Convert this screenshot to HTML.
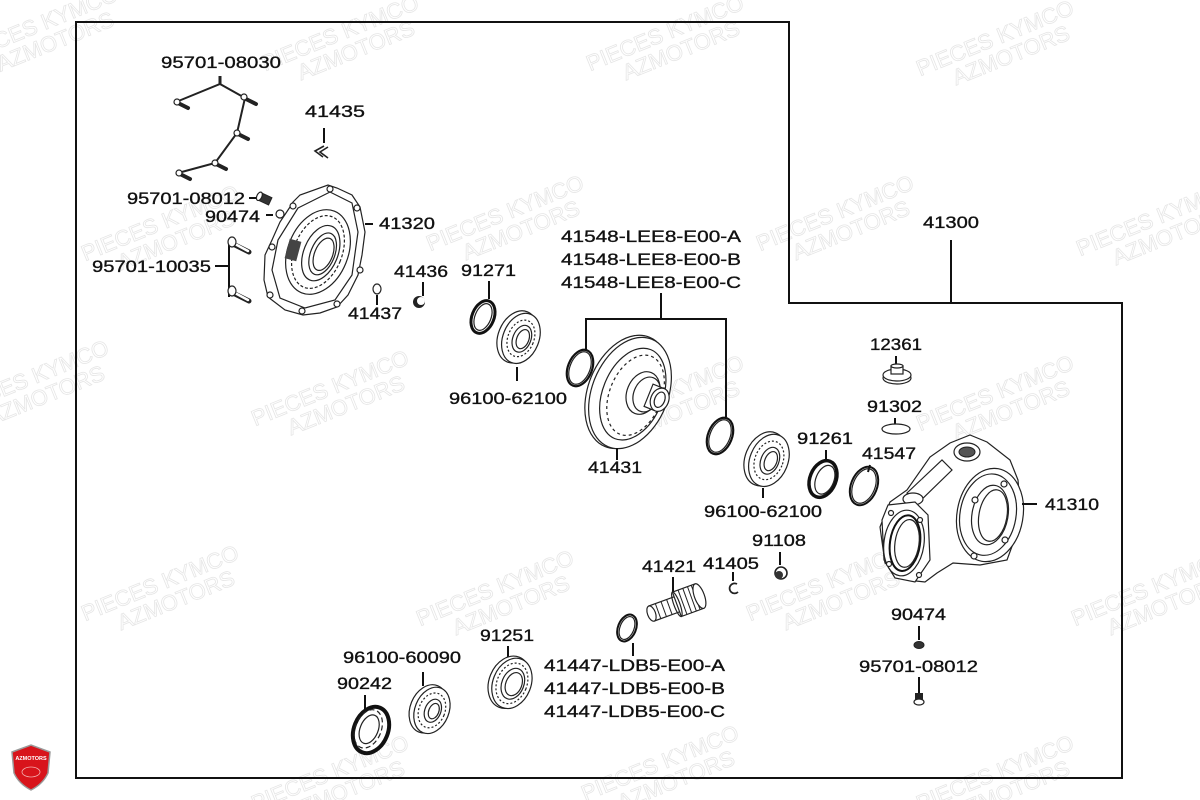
<!DOCTYPE html>
<html><head><meta charset="utf-8">
<style>
html,body{margin:0;padding:0;background:#fff;}
svg{display:block;}
.l{font-family:"Liberation Sans",Arial,sans-serif;font-size:17px;fill:#111;stroke:#111;stroke-width:0.35;}
.w{font-family:"Liberation Sans",Arial,sans-serif;font-size:22px;fill:none;stroke:#e6e6e6;stroke-width:0.8;}
.p{fill:#fff;stroke:#222;stroke-width:1.2;}
.pn{fill:none;stroke:#222;stroke-width:1.2;}
.ld{stroke:#111;stroke-width:2;fill:none;}
</style></head>
<body>
<svg width="1200" height="800" viewBox="0 0 1200 800" xmlns="http://www.w3.org/2000/svg">
<rect width="1200" height="800" fill="#fff"/>

<!-- watermarks -->
<g>
<g transform="translate(20,40) rotate(-22)"><text class="w" x="-60" y="0">PIECES KYMCO</text><text class="w" x="-30" y="22">AZMOTORS</text></g>
<g transform="translate(330,45) rotate(-22)"><text class="w" x="-70" y="0">PIECES KYMCO</text><text class="w" x="-40" y="22">AZMOTORS</text></g>
<g transform="translate(655,45) rotate(-22)"><text class="w" x="-70" y="0">PIECES KYMCO</text><text class="w" x="-40" y="22">AZMOTORS</text></g>
<g transform="translate(985,50) rotate(-22)"><text class="w" x="-70" y="0">PIECES KYMCO</text><text class="w" x="-40" y="22">AZMOTORS</text></g>
<g transform="translate(150,235) rotate(-22)"><text class="w" x="-70" y="0">PIECES KYMCO</text><text class="w" x="-40" y="22">AZMOTORS</text></g>
<g transform="translate(495,225) rotate(-22)"><text class="w" x="-70" y="0">PIECES KYMCO</text><text class="w" x="-40" y="22">AZMOTORS</text></g>
<g transform="translate(825,225) rotate(-22)"><text class="w" x="-70" y="0">PIECES KYMCO</text><text class="w" x="-40" y="22">AZMOTORS</text></g>
<g transform="translate(1145,230) rotate(-22)"><text class="w" x="-70" y="0">PIECES KYMCO</text><text class="w" x="-40" y="22">AZMOTORS</text></g>
<g transform="translate(20,390) rotate(-22)"><text class="w" x="-70" y="0">PIECES KYMCO</text><text class="w" x="-40" y="22">AZMOTORS</text></g>
<g transform="translate(320,400) rotate(-22)"><text class="w" x="-70" y="0">PIECES KYMCO</text><text class="w" x="-40" y="22">AZMOTORS</text></g>
<g transform="translate(655,405) rotate(-22)"><text class="w" x="-70" y="0">PIECES KYMCO</text><text class="w" x="-40" y="22">AZMOTORS</text></g>
<g transform="translate(985,405) rotate(-22)"><text class="w" x="-70" y="0">PIECES KYMCO</text><text class="w" x="-40" y="22">AZMOTORS</text></g>
<g transform="translate(150,595) rotate(-22)"><text class="w" x="-70" y="0">PIECES KYMCO</text><text class="w" x="-40" y="22">AZMOTORS</text></g>
<g transform="translate(485,600) rotate(-22)"><text class="w" x="-70" y="0">PIECES KYMCO</text><text class="w" x="-40" y="22">AZMOTORS</text></g>
<g transform="translate(815,595) rotate(-22)"><text class="w" x="-70" y="0">PIECES KYMCO</text><text class="w" x="-40" y="22">AZMOTORS</text></g>
<g transform="translate(1140,600) rotate(-22)"><text class="w" x="-70" y="0">PIECES KYMCO</text><text class="w" x="-40" y="22">AZMOTORS</text></g>
<g transform="translate(320,785) rotate(-22)"><text class="w" x="-70" y="0">PIECES KYMCO</text><text class="w" x="-40" y="22">AZMOTORS</text></g>
<g transform="translate(650,775) rotate(-22)"><text class="w" x="-70" y="0">PIECES KYMCO</text><text class="w" x="-40" y="22">AZMOTORS</text></g>
<g transform="translate(985,785) rotate(-22)"><text class="w" x="-70" y="0">PIECES KYMCO</text><text class="w" x="-40" y="22">AZMOTORS</text></g>
</g>

<!-- border -->
<path d="M76,22 L789,22 L789,303 L1122,303 L1122,778 L76,778 Z" fill="none" stroke="#111" stroke-width="2"/>

<!-- 41300 leader -->
<line class="ld" x1="951" y1="240" x2="951" y2="303"/>

<!-- bolt harness 95701-08030 -->
<polyline points="176,102 220,84 245,98 237,133 215,163 178,173" fill="none" stroke="#222" stroke-width="2"/>
<line x1="220" y1="84" x2="220" y2="76" stroke="#222" stroke-width="3"/>
<g stroke="#222" stroke-width="4" stroke-linecap="round">
<line x1="178" y1="103" x2="188" y2="108"/>
<line x1="246" y1="99" x2="256" y2="104"/>
<line x1="238" y1="134" x2="248" y2="139"/>
<line x1="216" y1="164" x2="226" y2="169"/>
<line x1="180" y1="174" x2="190" y2="179"/>
</g>
<g class="p"><circle cx="177" cy="102" r="3"/><circle cx="244" cy="97" r="3"/><circle cx="237" cy="133" r="3"/><circle cx="215" cy="163" r="3"/><circle cx="179" cy="173" r="3"/></g>

<!-- 41435 clip -->
<line class="ld" x1="324" y1="128" x2="324" y2="143"/>
<polyline points="324,146 315,151 323,157" fill="none" stroke="#222" stroke-width="1.6"/>
<polyline points="328,147 320,152 328,158" fill="none" stroke="#222" stroke-width="1.6"/>

<!-- small bolt 95701-08012 left & nut 90474 -->
<line class="ld" x1="249" y1="198" x2="256" y2="198"/>
<g transform="translate(263,198) rotate(25)"><rect x="-4" y="-4" width="12" height="8" fill="#333" stroke="#222"/><ellipse cx="-4" cy="0" rx="2.5" ry="4.5" class="p"/></g>
<line class="ld" x1="266" y1="215" x2="273" y2="215"/>
<circle cx="280" cy="214" r="4" class="p" stroke-width="1.6"/>

<!-- 95701-10035 bracket and bolts -->
<line class="ld" x1="215" y1="266" x2="229" y2="266"/>
<line class="ld" x1="229" y1="243" x2="229" y2="297"/>
<g stroke="#222" stroke-width="5" stroke-linecap="round"><line x1="233" y1="244" x2="249" y2="252"/><line x1="233" y1="293" x2="249" y2="301"/></g>
<g stroke="#fff" stroke-width="2.5" stroke-linecap="round"><line x1="235" y1="244" x2="248" y2="251"/><line x1="235" y1="293" x2="248" y2="300"/></g>
<ellipse cx="232" cy="242" rx="4" ry="5" class="p" stroke-width="1.6"/>
<ellipse cx="232" cy="291" rx="4" ry="5" class="p" stroke-width="1.6"/>

<!-- cover 41320 -->
<polygon class="p" stroke-width="1.4" points="293,202 300,195 328,185 337,188 352,195 360,207 365,232 362,255 358,275 348,295 337,307 320,313 303,315 285,310 268,297 264,280 265,255 272,240 280,222 290,207"/>
<polygon class="pn" points="298,208 330,192 352,203 358,232 352,275 335,300 305,308 280,298 272,270 278,240"/>
<g transform="translate(318,252) rotate(22)">
<ellipse rx="30" ry="44" class="pn"/>
<ellipse rx="24" ry="38" class="pn" stroke-dasharray="3 2"/>
<ellipse cx="3" rx="17" ry="29" class="p" stroke-width="1.6"/>
<ellipse cx="5" rx="12" ry="22" class="pn"/>
<ellipse cx="6" rx="9" ry="17" class="pn"/>
</g>
<g fill="#444"><rect x="287" y="240" width="12" height="20" transform="rotate(15 293 250)"/></g>
<g class="p"><circle cx="293" cy="206" r="3"/><circle cx="330" cy="189" r="3"/><circle cx="357" cy="208" r="3"/><circle cx="360" cy="270" r="3"/><circle cx="337" cy="304" r="3"/><circle cx="302" cy="311" r="3"/><circle cx="270" cy="295" r="3"/><circle cx="272" cy="247" r="3"/></g>
<line class="ld" x1="365" y1="224" x2="373" y2="224"/>

<!-- 41436 plug, 41437 ring -->
<line class="ld" x1="423" y1="282" x2="423" y2="296"/>
<ellipse cx="419" cy="302" rx="6" ry="6" fill="#222"/>
<ellipse cx="421" cy="301" rx="4" ry="4" fill="#fff"/>
<ellipse cx="377" cy="289" rx="4" ry="5" class="pn" stroke-width="1.5"/>
<line class="ld" x1="377" y1="295" x2="377" y2="305"/>

<!-- 91271 ring -->
<line class="ld" x1="489" y1="281" x2="489" y2="299"/>
<g transform="translate(483,317) rotate(22)"><ellipse rx="11" ry="17" fill="none" stroke="#111" stroke-width="3"/><ellipse rx="8" ry="14" class="pn"/></g>

<!-- bearing 96100-62100 left -->
<g transform="translate(520,338) rotate(22)">
<ellipse cx="-3" rx="19" ry="27" class="p"/>
<ellipse cx="1" rx="18" ry="26" class="p"/>
<ellipse cx="1" rx="13" ry="19" class="pn" stroke-dasharray="2 2"/>
<ellipse cx="2" rx="9" ry="14" class="p" stroke-width="1.5"/>
<ellipse cx="3" rx="6" ry="10" class="pn"/>
</g>
<line class="ld" x1="517" y1="367" x2="517" y2="381"/>

<!-- 41548 bracket -->
<polyline class="ld" points="661,293 661,319"/>
<polyline class="ld" points="586,350 586,319 726,319 726,417"/>
<g transform="translate(580,368) rotate(22)"><ellipse rx="12" ry="19" fill="none" stroke="#111" stroke-width="2.2"/><ellipse rx="10" ry="17" class="pn"/></g>
<g transform="translate(720,436) rotate(22)"><ellipse rx="12" ry="19" fill="none" stroke="#111" stroke-width="2.2"/><ellipse rx="10" ry="17" class="pn"/></g>

<!-- 41431 disc -->
<g transform="translate(630,393) rotate(22)">
<ellipse cx="-3" rx="39" ry="59" class="p"/>
<ellipse cx="0" rx="38" ry="58" class="p"/>
<ellipse cx="3" rx="30" ry="48" class="pn"/>
<ellipse cx="6" rx="26" ry="42" class="pn" stroke-dasharray="3 3"/>
</g>
<g transform="translate(643,393) rotate(22)">
<ellipse rx="16" ry="22" class="p"/>
<ellipse cx="4" rx="13" ry="18" class="pn"/>
<rect x="6" y="-12" width="12" height="24" class="p"/>
<ellipse cx="18" rx="9" ry="12" class="p"/>
<ellipse cx="18" rx="5" ry="8" class="pn"/>
</g>
<line class="ld" x1="617" y1="448" x2="617" y2="460"/>

<!-- bearing 96100-62100 right -->
<g transform="translate(768,460) rotate(22)">
<ellipse cx="-3" rx="20" ry="28" class="p"/>
<ellipse cx="1" rx="19" ry="27" class="p"/>
<ellipse cx="1" rx="14" ry="20" class="pn" stroke-dasharray="2 2"/>
<ellipse cx="2" rx="9" ry="14" class="p" stroke-width="1.5"/>
<ellipse cx="3" rx="6" ry="10" class="pn"/>
</g>
<line class="ld" x1="763" y1="488" x2="763" y2="498"/>

<!-- 91261 seal -->
<line class="ld" x1="826" y1="450" x2="826" y2="462"/>
<g transform="translate(823,479) rotate(22)"><ellipse rx="13" ry="19" fill="none" stroke="#111" stroke-width="3.5"/><ellipse cx="2" rx="9" ry="15" class="pn"/></g>

<!-- 12361 plug, 91302 ring -->
<line class="ld" x1="896" y1="356" x2="896" y2="368"/>
<ellipse cx="897" cy="378" rx="14" ry="6" class="p" stroke-width="1.5"/>
<ellipse cx="897" cy="375" rx="14" ry="6" class="p" stroke-width="1.5"/>
<rect x="891" y="366" width="12" height="8" class="p" stroke-width="1.5"/>
<ellipse cx="897" cy="366" rx="6" ry="2" class="p"/>
<line class="ld" x1="895" y1="418" x2="895" y2="424"/>
<ellipse cx="896" cy="429" rx="14" ry="5" class="pn" stroke-width="1.6"/>

<!-- 41547 ring -->
<line class="ld" x1="870" y1="465" x2="868" y2="472"/>
<g transform="translate(864,486) rotate(22)"><ellipse rx="13" ry="20" fill="none" stroke="#111" stroke-width="2"/><ellipse rx="11" ry="18" class="pn"/></g>

<!-- housing 41310 -->
<polygon class="p" stroke-width="1.5" points="890,502 907,490 930,457 950,443 970,435 987,442 1010,460 1018,480 1020,505 1018,530 1007,560 980,565 953,563 937,573 925,582 907,580 885,563 880,527"/>
<g transform="translate(990,515) rotate(10)">
<ellipse rx="33" ry="47" class="p"/>
<ellipse cx="-2" rx="28" ry="41" class="pn"/>
<ellipse rx="18" ry="30" class="p" stroke-width="1.5"/>
<ellipse cx="3" rx="14" ry="26" class="pn"/>
</g>
<g class="p"><circle cx="1004" cy="484" r="3"/><circle cx="975" cy="500" r="3"/><circle cx="1005" cy="540" r="3"/><circle cx="974" cy="556" r="3"/></g>
<polygon class="p" points="907,493 942,460 952,470 918,503"/>
<ellipse cx="913" cy="499" rx="10" ry="6" class="p"/>
<ellipse cx="967" cy="452" rx="13" ry="9" class="p"/>
<ellipse cx="967" cy="452" rx="8" ry="5" fill="#555" stroke="#222"/>
<polygon class="p" points="888,505 915,502 928,515 930,560 915,582 895,578 884,560 882,520"/>
<g transform="translate(904,543) rotate(8)">
<ellipse rx="20" ry="33" class="p"/>
<ellipse cx="1" rx="15" ry="28" fill="none" stroke="#111" stroke-width="2"/>
<ellipse cx="3" rx="12" ry="24" class="pn"/>
</g>
<g class="p"><circle cx="891" cy="513" r="2.5"/><circle cx="920" cy="520" r="2.5"/><circle cx="889" cy="564" r="2.5"/><circle cx="919" cy="575" r="2.5"/></g>
<line class="ld" x1="1022" y1="504" x2="1037" y2="504"/>

<!-- 90474 R nut & 95701-08012 R bolt -->
<line class="ld" x1="919" y1="626" x2="919" y2="640"/>
<ellipse cx="919" cy="645" rx="5" ry="3.5" fill="#333" stroke="#222"/>
<line class="ld" x1="919" y1="677" x2="919" y2="694"/>
<rect x="915" y="693" width="8" height="7" fill="#222"/>
<ellipse cx="919" cy="702" rx="5" ry="3" class="p" stroke-width="1.4"/>

<!-- 91108 nut, 41405 clip -->
<line class="ld" x1="780" y1="552" x2="780" y2="565"/>
<circle cx="781" cy="573" r="6" fill="#fff" stroke="#222" stroke-width="1.6"/>
<circle cx="779" cy="575" r="4" fill="#333"/>
<line class="ld" x1="733" y1="572" x2="733" y2="581"/>
<path d="M737,584 A5,5 0 1 0 738,592" fill="none" stroke="#222" stroke-width="1.8"/>

<!-- 41421 pinion -->
<line class="ld" x1="673" y1="577" x2="673" y2="592"/>
<g transform="translate(675,605) rotate(-20)">
<rect x="-25" y="-8" width="30" height="16" class="p"/>
<ellipse cx="-25" cy="0" rx="4" ry="8" class="p"/>
<line x1="-18" y1="-8" x2="-18" y2="8" stroke="#222"/>
<line x1="-12" y1="-8" x2="-12" y2="8" stroke="#222"/>
<line x1="-6" y1="-8" x2="-6" y2="8" stroke="#222"/>
<rect x="2" y="-13" width="24" height="26" class="p"/>
<g stroke="#222" stroke-width="1"><line x1="8" y1="-13" x2="8" y2="13"/><line x1="13" y1="-13" x2="13" y2="13"/><line x1="18" y1="-13" x2="18" y2="13"/><line x1="22" y1="-13" x2="22" y2="13"/></g>
<ellipse cx="26" cy="0" rx="5" ry="13" class="p"/>
<ellipse cx="2" cy="0" rx="3" ry="13" class="pn"/>
</g>

<!-- 41447 ring -->
<g transform="translate(627,628) rotate(22)"><ellipse rx="9" ry="14" fill="none" stroke="#111" stroke-width="2"/><ellipse rx="7" ry="12" class="pn"/></g>
<line class="ld" x1="633" y1="643" x2="633" y2="656"/>

<!-- 91251 seal -->
<line class="ld" x1="508" y1="646" x2="508" y2="657"/>
<g transform="translate(511,683) rotate(22)">
<ellipse cx="-2" rx="20" ry="27" class="p"/>
<ellipse cx="1" rx="19" ry="26" class="p"/>
<ellipse cx="1" rx="15" ry="21" class="pn" stroke-dasharray="2 2"/>
<ellipse cx="2" rx="11" ry="16" class="p" stroke-width="1.6"/>
<ellipse cx="3" rx="8" ry="12" class="pn"/>
</g>

<!-- bearing 96100-60090 -->
<line class="ld" x1="423" y1="672" x2="423" y2="686"/>
<g transform="translate(431,710) rotate(22)">
<ellipse cx="-3" rx="18" ry="25" class="p"/>
<ellipse cx="1" rx="17" ry="24" class="p"/>
<ellipse cx="1" rx="13" ry="18" class="pn" stroke-dasharray="2 2"/>
<ellipse cx="2" rx="8" ry="12" class="p" stroke-width="1.5"/>
<ellipse cx="3" rx="5" ry="8" class="pn"/>
</g>

<!-- 90242 seal -->
<line class="ld" x1="365" y1="695" x2="365" y2="711"/>
<g transform="translate(371,730) rotate(22)">
<ellipse rx="17" ry="24" fill="#fff" stroke="#111" stroke-width="4"/>
<ellipse cx="-3" rx="13" ry="20" class="pn" stroke-dasharray="5 3"/>
<ellipse cx="-2" rx="9" ry="15" class="pn"/>
</g>

<!-- labels -->
<g class="l">
<text x="161" y="68" textLength="120" lengthAdjust="spacingAndGlyphs">95701-08030</text>
<text x="305" y="117" textLength="60" lengthAdjust="spacingAndGlyphs">41435</text>
<text x="127" y="204" textLength="118" lengthAdjust="spacingAndGlyphs">95701-08012</text>
<text x="205" y="222" textLength="55" lengthAdjust="spacingAndGlyphs">90474</text>
<text x="92" y="272" textLength="119" lengthAdjust="spacingAndGlyphs">95701-10035</text>
<text x="379" y="229" textLength="56" lengthAdjust="spacingAndGlyphs">41320</text>
<text x="394" y="277" textLength="54" lengthAdjust="spacingAndGlyphs">41436</text>
<text x="348" y="319" textLength="54" lengthAdjust="spacingAndGlyphs">41437</text>
<text x="461" y="276" textLength="55" lengthAdjust="spacingAndGlyphs">91271</text>
<text x="561" y="242" textLength="180" lengthAdjust="spacingAndGlyphs">41548-LEE8-E00-A</text>
<text x="561" y="265" textLength="180" lengthAdjust="spacingAndGlyphs">41548-LEE8-E00-B</text>
<text x="561" y="288" textLength="180" lengthAdjust="spacingAndGlyphs">41548-LEE8-E00-C</text>
<text x="923" y="228" textLength="56" lengthAdjust="spacingAndGlyphs">41300</text>
<text x="449" y="404" textLength="118" lengthAdjust="spacingAndGlyphs">96100-62100</text>
<text x="588" y="473" textLength="54" lengthAdjust="spacingAndGlyphs">41431</text>
<text x="704" y="517" textLength="118" lengthAdjust="spacingAndGlyphs">96100-62100</text>
<text x="797" y="444" textLength="56" lengthAdjust="spacingAndGlyphs">91261</text>
<text x="870" y="350" textLength="52" lengthAdjust="spacingAndGlyphs">12361</text>
<text x="867" y="412" textLength="55" lengthAdjust="spacingAndGlyphs">91302</text>
<text x="862" y="459" textLength="54" lengthAdjust="spacingAndGlyphs">41547</text>
<text x="1045" y="510" textLength="54" lengthAdjust="spacingAndGlyphs">41310</text>
<text x="891" y="620" textLength="55" lengthAdjust="spacingAndGlyphs">90474</text>
<text x="859" y="672" textLength="119" lengthAdjust="spacingAndGlyphs">95701-08012</text>
<text x="752" y="546" textLength="54" lengthAdjust="spacingAndGlyphs">91108</text>
<text x="703" y="569" textLength="56" lengthAdjust="spacingAndGlyphs">41405</text>
<text x="642" y="572" textLength="54" lengthAdjust="spacingAndGlyphs">41421</text>
<text x="544" y="671" textLength="181" lengthAdjust="spacingAndGlyphs">41447-LDB5-E00-A</text>
<text x="544" y="694" textLength="181" lengthAdjust="spacingAndGlyphs">41447-LDB5-E00-B</text>
<text x="544" y="717" textLength="181" lengthAdjust="spacingAndGlyphs">41447-LDB5-E00-C</text>
<text x="480" y="641" textLength="54" lengthAdjust="spacingAndGlyphs">91251</text>
<text x="343" y="663" textLength="118" lengthAdjust="spacingAndGlyphs">96100-60090</text>
<text x="337" y="689" textLength="55" lengthAdjust="spacingAndGlyphs">90242</text>
</g>

<!-- logo -->
<path d="M12,752 L31,745 L50,752 L48,773 Q43,784 31,790 Q19,784 14,773 Z" fill="#d8141b" stroke="#9a9a9a" stroke-width="1.5"/>
<text x="31" y="760" text-anchor="middle" font-family="Liberation Sans, Arial, sans-serif" font-size="5.5" font-weight="bold" fill="#fff">AZMOTORS</text>
<ellipse cx="31" cy="772" rx="9" ry="5" fill="none" stroke="#f3b0b0" stroke-width="0.8"/>
</svg>
</body></html>
